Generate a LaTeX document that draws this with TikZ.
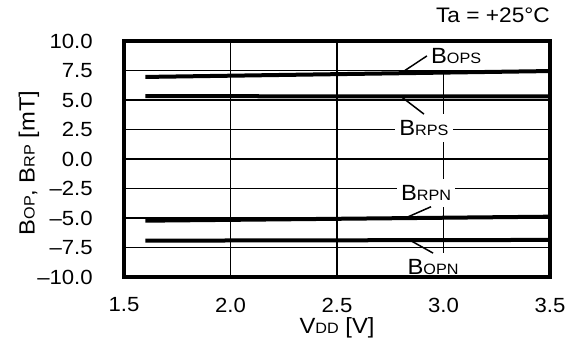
\documentclass[tikz,border=0pt]{standalone}
\usepackage{fontspec}
\setmainfont{Liberation Sans}[FakeStretch=1.08]
\newcommand{\smallsub}[1]{{\fontsize{15}{16}\selectfont #1}}
\begin{document}
\begin{tikzpicture}[x=213pt, y=11.8pt,
        grid/.style={line width=1.8pt},
        curve/.style={line width=4pt},
        lead/.style={line width=1.5pt},
        lbl/.style={fill=white, inner xsep=4pt, inner ysep=6pt, font=\fontsize{22}{24}\selectfont},
        tick/.style={font=\fontsize{20.5}{22}\selectfont}]
            \useasboundingbox (0.918,-16.36) rectangle (3.650,13.47);
            % grid
            \foreach \v in {2.0,2.5,3.0}
                \draw[grid] (\v,-10) -- (\v,10);
            \foreach \b in {-7.5,-5,...,7.5}
                \draw[grid] (1.5,\b) -- (3.5,\b);
            % labels with white boxes
            \node[lbl] (bops) at (3.059,8.73) {B\smallsub{OPS}};
            \node[lbl] (brps) at (2.908,2.63) {B\smallsub{RPS}};
            \node[lbl] (brpn) at (2.918,-2.88) {B\smallsub{RPN}};
            \node[lbl] (bopn) at (2.951,-9.15) {B\smallsub{OPN}};
            % data
            \draw[curve] (1.6,6.95) -- (3.5,7.45);
            \draw[curve] (1.6,5.32) -- (3.5,5.3);
            \draw[curve] (1.6,-5.23) -- (3.5,-4.89);
            \draw[curve] (1.6,-6.92) -- (3.5,-6.86);
            \coordinate (ops) at (2.8,7.27);
            \coordinate (rps) at (2.8,5.3);
            \coordinate (rpn) at (2.82,-5.01);
            \coordinate (opn) at (2.843,-6.89);
            \draw[lead] (ops) -- (bops.west);
            \draw[lead] (rps) -- (brps.north);
            \draw[lead] (rpn) -- ([xshift=5pt]brpn.south);
            \draw[lead] (opn) -- (bopn.north);
            \draw[line width=4pt] (1.5,-10) rectangle (3.5,10);
            % axes
            \foreach \b/\t [count=\i] in {10/10.0,7.5/7.5,5/5.0,2.5/2.5,0/0.0,-2.5/--2.5,-5/--5.0,-7.5/--7.5,-10/--10.0}
                \node[tick, anchor=east, inner sep=0] (ylab\i) at (1.354,\b) {\t};
            \foreach \v [count=\i] in {1.5,2.0,2.5,3.0,3.5}
                \node[tick] (xlab\i) at (\v,-12.37) {\v};
            \node[rotate=90, font=\fontsize{22}{24}\selectfont] (ytitle) at (1.054,-0.34) {B\smallsub{OP}, B\smallsub{RP} [mT]};
            \node[font=\fontsize{22}{24}\selectfont] (xtitle) at (2.5,-14.3) {V\smallsub{DD} [V]};
            \node[anchor=east, inner sep=0, font=\fontsize{21}{24}\selectfont] (temp) at (3.5,12.2) {Ta = +25\textdegree C};
        \end{tikzpicture}
\end{document}
